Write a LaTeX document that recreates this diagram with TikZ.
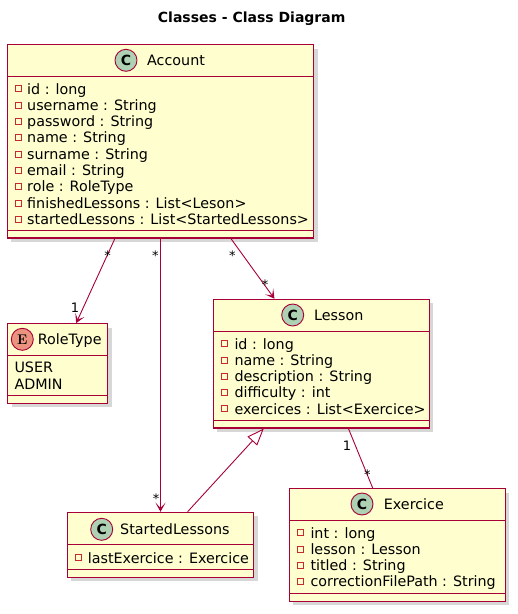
\documentclass[tikz,border=0pt]{standalone}
\usepackage{fontspec}
\setmainfont{DejaVu Sans}
\newfontfamily\lmfont{Latin Modern Roman}
\usetikzlibrary{arrows.meta,shadows}
\definecolor{umlfill}{HTML}{FEFECE}
\definecolor{umlborder}{HTML}{A80036}
\definecolor{cfill}{HTML}{ADD1B2}
\definecolor{efill}{HTML}{EB937F}
\definecolor{privsq}{HTML}{C82930}
\newcommand\umlattr[5]{%
  \node[privbox] (#4b) at (#1,#3-5.2) {};
  \node[attrtext] (#4) at (#2,#3) {#5};}
\begin{document}
\begin{tikzpicture}[x=1pt,y=-1pt,
  classbox/.style={draw=umlborder, fill=umlfill, line width=1.1pt, inner sep=0pt,
    drop shadow={shadow xshift=4pt, shadow yshift=-4pt, opacity=0.35, fill=black!45}},
  sepline/.style={draw=umlborder, line width=1pt},
  spot/.style={circle, draw=umlborder, line width=0.9pt, minimum size=22pt, inner sep=0pt,
    font=\bfseries\fontsize{14}{14}\selectfont},
  classname/.style={anchor=base west, inner sep=0pt, font=\fontsize{14.3}{16}\selectfont},
  attrtext/.style={anchor=base west, inner sep=0pt, font=\fontsize{14.3}{16}\selectfont},
  privbox/.style={draw=privsq, rectangle, minimum size=6pt, inner sep=0pt, line width=0.8pt},
  assoc/.style={draw=umlborder, line width=0.9pt},
  arrowto/.style={assoc, -{Stealth[length=9pt,width=10pt,inset=5pt]}},
  extends/.style={assoc, -{Triangle[open,length=17pt,width=13pt,fill=white]}},
  mult/.style={inner sep=0pt, font=\fontsize{13}{13}\selectfont}
]
\useasboundingbox (0,0) rectangle (518,614);

% title
\node[font=\bfseries\fontsize{14}{16}\selectfont] (title) at (251.7,18.3) {Classes - Class Diagram};

% Account
\node[classbox, minimum width=306.5pt, minimum height=193.5pt] (account) at (160.5,141.25) {};
\draw[sepline] (7.5,76.5) -- (314,76.5);
\draw[sepline] (7.5,230.5) -- (314,230.5);
\node[spot, fill=cfill] (accspot) at (126,60.3) {C};
\node[classname] (accname) at (147,65.5) {Account};
\umlattr{18.5}{27}{94}{acca}{id : long}
\umlattr{18.5}{27}{110.3}{accb}{username : String}
\umlattr{18.5}{27}{126.6}{accc}{password : String}
\umlattr{18.5}{27}{142.9}{accd}{name : String}
\umlattr{18.5}{27}{159.2}{acce}{surname : String}
\umlattr{18.5}{27}{175.5}{accf}{email : String}
\umlattr{18.5}{27}{191.8}{accg}{role : RoleType}
\umlattr{18.5}{27}{208.1}{acch}{finishedLessons : List<Leson>}
\umlattr{18.5}{27}{224.4}{acci}{startedLessons : List<StartedLessons>}

% RoleType
\node[classbox, minimum width=100pt, minimum height=79.6pt] (roletype) at (57.5,363.5) {};
\draw[sepline] (7.5,355.5) -- (107.5,355.5);
\draw[sepline] (7.5,395.5) -- (107.5,395.5);
\node[spot, fill=efill, font=\lmfont\bfseries\fontsize{14}{14}\selectfont] (rolespot) at (22.3,339.3) {E};
\node[classname] (rolename) at (37.7,344.6) {RoleType};
\node[attrtext] (roleuser) at (14.3,372) {USER};
\node[attrtext] (roleadmin) at (14.3,389) {ADMIN};

% Lesson
\node[classbox, minimum width=216pt, minimum height=128.7pt] (lesson) at (321.3,363.65) {};
\draw[sepline] (213.3,331.5) -- (429.3,331.5);
\draw[sepline] (213.3,420.5) -- (429.3,420.5);
\node[spot, fill=cfill] (lesspot) at (292.7,315) {C};
\node[classname] (lesname) at (314,320.3) {Lesson};
\umlattr{224}{234.3}{349}{lesa}{id : long}
\umlattr{224}{234.3}{365.3}{lesb}{name : String}
\umlattr{224}{234.3}{381.5}{lesc}{description : String}
\umlattr{224}{234.3}{397.8}{lesd}{difficulty : int}
\umlattr{224}{234.3}{414}{lese}{exercices : List<Exercice>}

% Exercice
\node[classbox, minimum width=216pt, minimum height=112.6pt] (exercice) at (397.3,545) {};
\draw[sepline] (289.3,520.5) -- (505.3,520.5);
\draw[sepline] (289.3,593.5) -- (505.3,593.5);
\node[spot, fill=cfill] (exespot) at (362,504) {C};
\node[classname] (exename) at (383.7,509.3) {Exercice};
\umlattr{300}{310.3}{538}{exea}{int : long}
\umlattr{300}{310.3}{554.3}{exeb}{lesson : Lesson}
\umlattr{300}{310.3}{570.6}{exec}{titled : String}
\umlattr{300}{310.3}{586.9}{exed}{correctionFilePath : String}

% StartedLessons
\node[classbox, minimum width=186.7pt, minimum height=65pt] (started) at (160.5,544.8) {};
\draw[sepline] (67.2,544.5) -- (253.8,544.5);
\draw[sepline] (67.2,569.5) -- (253.8,569.5);
\node[spot, fill=cfill] (stspot) at (101.7,529.3) {C};
\node[classname] (stname) at (120,534.5) {StartedLessons};
\umlattr{78.3}{87.7}{563}{sta}{lastExercice : Exercice}

% connectors
\draw[arrowto] ([xshift=108.2pt]account.south west) -- ([xshift=69.2pt]roletype.north west);
\draw[arrowto] (account.south) -- (started.north);
\draw[arrowto] ([xshift=224.2pt]account.south west) -- ([xshift=61.7pt]lesson.north west);
\draw[assoc] ([xshift=135.7pt]lesson.south west) -- ([xshift=84pt]exercice.north west);
\draw[extends] ([xshift=121pt]started.north west) -- ([xshift=51pt]lesson.south west);

% multiplicities
\node[mult] (m1) at (107.7,256) {*};
\node[mult] (m2) at (75,307.7) {1};
\node[mult] (m3) at (155.3,256) {*};
\node[mult] (m4) at (156,498.4) {*};
\node[mult] (m5) at (232.3,256) {*};
\node[mult] (m6) at (265,284.4) {*};
\node[mult] (m7) at (347,445.3) {1};
\node[mult] (m8) at (367.3,474.4) {*};
\end{tikzpicture}
\end{document}
